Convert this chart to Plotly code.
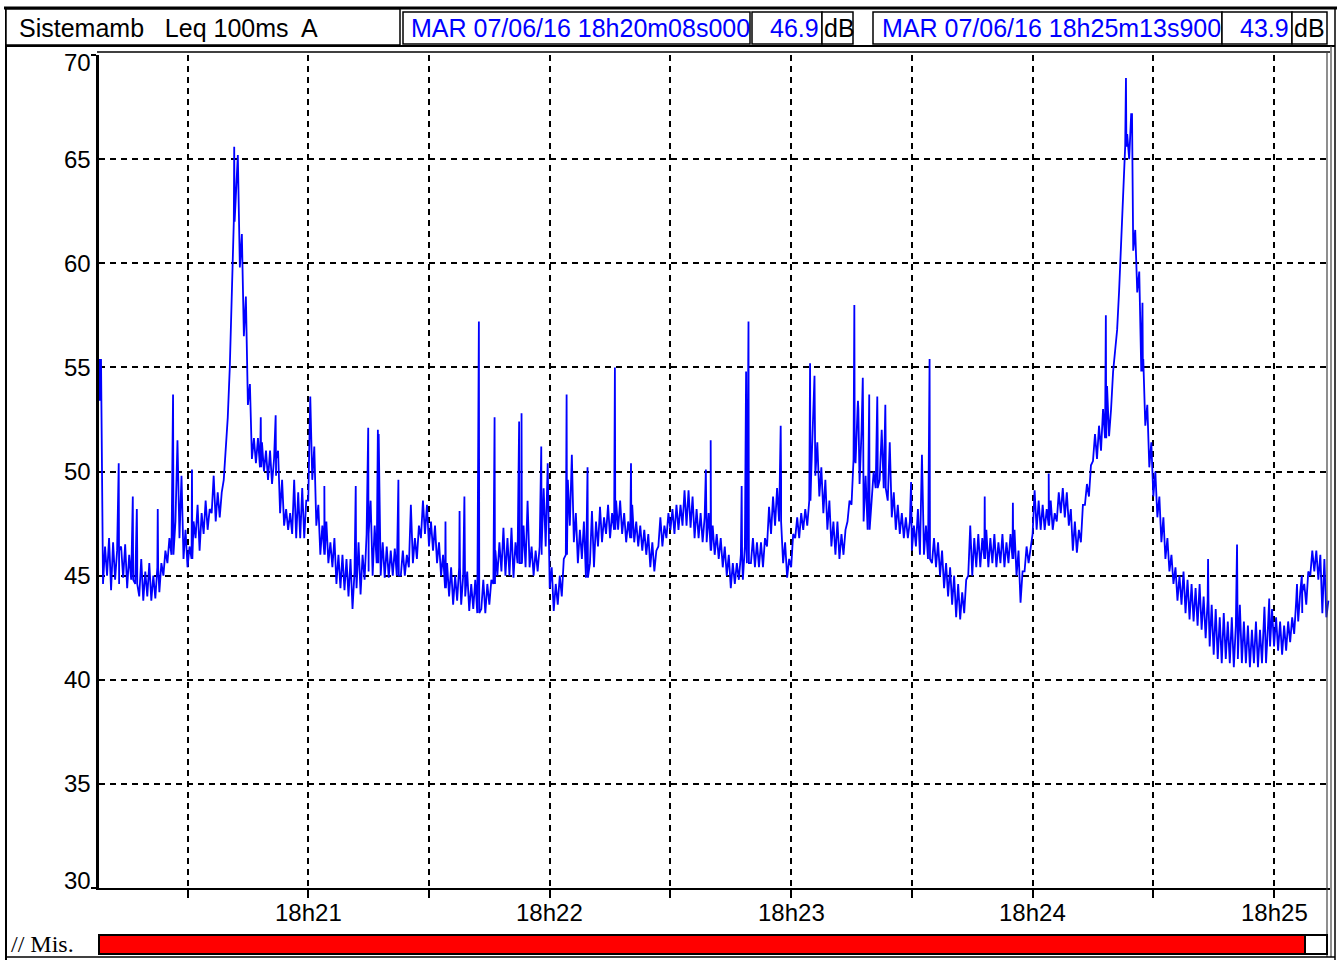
import plotly.graph_objects as go

# ---------------- data ----------------
# Leq 100ms A trace, read once per second from 18:20:08.0:
# bottom and top of the trace band within each second (dB)
start_s = 8.0  # seconds after 18:20:00
band_low_db = [
    53.4, 44.6, 45.0, 44.3, 44.8, 44.6, 44.9, 44.4, 44.8, 44.6,
    44.0, 43.8, 44.0, 43.8, 43.9, 44.2, 45.0, 45.6, 46.0, 47.6,
    46.8, 45.8, 45.4, 45.8, 46.8, 46.2, 47.0, 47.2, 48.0, 47.6,
    47.8, 49.6, 52.6, 59.0, 63.2, 59.8, 56.5, 53.2, 50.6, 50.4,
    50.2, 50.0, 49.6, 49.4, 49.8, 48.0, 47.4, 47.2, 47.0, 46.8,
    46.8, 46.8, 48.6, 49.6, 47.4, 46.0, 46.0, 45.6, 45.4, 44.6,
    44.4, 44.3, 44.0, 43.4, 44.4, 44.1, 44.8, 45.2, 45.0, 45.6,
    45.0, 44.9, 44.9, 45.0, 45.0, 45.0, 45.0, 45.4, 45.6, 45.8,
    46.8, 47.0, 46.4, 46.2, 45.6, 45.0, 44.4, 44.0, 43.6, 43.8,
    43.6, 44.0, 43.3, 43.4, 43.2, 43.4, 43.2, 43.6, 44.6, 45.0,
    45.2, 45.0, 45.0, 44.9, 45.6, 45.6, 45.4, 45.4, 45.0, 45.2,
    46.0, 46.4, 44.4, 43.3, 43.6, 44.0, 46.0, 47.4, 46.6, 45.6,
    45.8, 44.9, 45.6, 45.4, 46.4, 46.6, 47.0, 46.8, 47.2, 47.2,
    47.0, 46.6, 46.8, 46.6, 46.4, 46.2, 46.0, 45.4, 45.2, 46.4,
    46.4, 46.8, 47.2, 47.0, 47.2, 47.4, 47.4, 47.3, 46.8, 46.8,
    46.6, 46.6, 46.2, 46.0, 45.8, 45.4, 45.0, 44.4, 44.6, 44.8,
    44.8, 45.6, 45.6, 45.4, 45.4, 45.4, 46.4, 47.0, 47.4, 47.6,
    45.6, 44.9, 45.4, 46.8, 46.8, 47.2, 47.4, 50.0, 49.8, 48.8,
    48.0, 47.2, 46.4, 46.0, 45.8, 46.0, 47.6, 48.4, 50.4, 49.4,
    47.6, 47.2, 48.6, 49.2, 49.6, 49.2, 48.6, 47.8, 47.2, 47.0,
    46.8, 46.8, 46.2, 46.4, 46.0, 46.0, 45.8, 45.6, 45.4, 45.0,
    44.4, 44.0, 43.6, 43.0, 42.9, 43.2, 45.0, 45.0, 45.4, 45.4,
    45.8, 45.4, 45.6, 45.4, 45.6, 45.4, 45.6, 45.8, 45.0, 43.7,
    45.2, 45.6, 47.0, 47.2, 47.2, 47.2, 47.4, 47.2, 47.6, 48.0,
    47.8, 47.4, 46.2, 46.1, 46.6, 48.4, 48.8, 50.5, 50.6, 51.0,
    51.6, 51.7, 54.8, 56.8, 61.0, 65.6, 65.0, 60.6, 58.6, 54.8,
    52.2, 50.2, 48.8, 47.8, 46.6, 45.8, 45.2, 44.6, 43.8, 43.6,
    43.2, 42.9, 42.8, 42.6, 42.4, 42.0, 41.6, 41.2, 41.0, 40.8,
    41.0, 40.8, 40.6, 41.0, 40.8, 40.8, 40.6, 40.8, 40.6, 40.8,
    40.8, 41.6, 41.6, 41.4, 41.2, 41.4, 41.8, 42.2, 42.8, 43.2,
    43.6, 45.0, 45.2, 44.8, 43.2, 43.0,
]
band_high_db = [
    55.4, 46.4, 46.8, 46.6, 46.2, 46.4, 46.5, 46.0, 46.6, 46.2,
    45.8, 45.2, 45.6, 45.0, 45.4, 45.6, 46.2, 46.8, 47.4, 51.5,
    49.8, 47.2, 46.4, 47.6, 48.4, 48.0, 48.6, 48.2, 49.8, 49.0,
    49.0, 51.2, 55.0, 62.0, 65.2, 61.4, 58.4, 54.2, 51.6, 51.6,
    51.4, 51.0, 51.0, 50.6, 51.0, 49.6, 48.2, 48.0, 49.6, 49.0,
    49.2, 48.6, 53.6, 51.2, 48.4, 47.4, 47.6, 46.6, 46.8, 46.0,
    46.0, 45.8, 45.8, 45.2, 46.6, 46.0, 47.0, 48.6, 47.4, 51.8,
    46.6, 46.4, 46.2, 46.3, 46.0, 46.2, 46.0, 48.4, 46.8, 47.4,
    48.6, 48.4, 47.6, 47.4, 46.6, 46.0, 45.6, 45.4, 45.0, 45.4,
    45.0, 45.2, 44.6, 44.8, 44.6, 44.8, 44.6, 44.8, 46.2, 46.6,
    47.3, 46.8, 47.3, 46.6, 47.2, 47.4, 48.6, 46.4, 46.2, 46.4,
    49.2, 50.4, 45.4, 44.6, 45.0, 45.8, 49.6, 50.8, 48.0, 47.2,
    47.6, 46.4, 48.1, 47.6, 48.3, 47.8, 48.4, 48.0, 48.6, 48.6,
    48.0, 47.6, 48.4, 47.6, 47.4, 47.2, 47.0, 46.6, 46.2, 47.8,
    47.4, 48.0, 48.2, 48.4, 48.4, 49.1, 49.1, 48.8, 48.2, 48.0,
    47.8, 48.0, 47.4, 47.0, 46.8, 46.4, 46.0, 45.6, 45.6, 46.0,
    46.4, 47.0, 46.8, 46.6, 46.6, 46.8, 48.3, 48.8, 49.2, 49.6,
    46.6, 45.8, 47.0, 47.8, 48.0, 48.2, 48.6, 52.4, 51.4, 50.2,
    49.6, 48.6, 47.6, 47.6, 47.0, 47.2, 48.6, 50.6, 53.0, 52.0,
    49.8, 48.8, 50.0, 51.6, 52.0, 51.2, 51.4, 49.0, 48.4, 48.0,
    47.8, 47.6, 47.4, 48.2, 50.8, 47.4, 47.2, 46.8, 46.6, 46.2,
    45.6, 45.4, 45.0, 44.6, 44.2, 44.8, 47.4, 46.8, 47.0, 46.8,
    47.2, 46.8, 47.0, 46.6, 47.0, 46.6, 47.0, 47.2, 46.2, 45.2,
    46.4, 46.4, 49.1, 48.6, 48.4, 48.2, 48.6, 48.0, 49.0, 49.2,
    49.0, 48.2, 47.6, 47.2, 48.4, 49.4, 50.3, 51.8, 52.2, 53.0,
    54.1, 53.0, 55.8, 58.7, 62.6, 66.2, 67.2, 61.6, 59.6, 55.4,
    53.2, 51.4, 50.0, 48.8, 47.8, 46.8, 46.0, 45.4, 45.0, 45.2,
    44.8, 44.6, 44.4, 44.6, 44.0, 43.8, 43.6, 43.4, 43.0, 43.2,
    42.8, 43.0, 42.6, 43.6, 42.8, 42.6, 42.4, 42.8, 42.4, 43.0,
    42.6, 43.4, 43.0, 42.8, 42.6, 42.8, 43.0, 43.8, 44.2, 44.6,
    45.2, 46.2, 46.2, 46.0, 45.8, 43.8,
]

# short 100 ms peaks (seconds after 18:20:08.0, dB)
spike_t = [0.2, 4.9, 8.4, 9.4, 14.6, 18.4, 23.1, 33.6, 40.2, 43.9,
           56.0, 63.8, 66.9, 69.3, 74.4, 86.1, 89.6, 90.8, 94.4, 98.3,
           104.4, 105.0, 109.9, 116.2, 121.4, 128.2, 132.2, 150.8, 152.0, 159.7,
           160.8, 161.4, 169.4, 176.7, 177.8, 187.7, 188.6, 189.8, 191.4, 193.4,
           195.4, 201.8, 206.4, 220.1, 227.1, 236.0, 250.2, 255.2, 256.6, 259.3,
           275.6, 282.8, 289.6, 290.8, 297.7, 298.9]
spike_db = [55.4, 50.4, 48.8, 48.2, 48.2, 53.7, 50.1, 65.6, 52.6, 52.7,
            49.3, 49.3, 52.1, 52.0, 49.6, 47.6, 48.1, 48.8, 57.2, 52.6,
            52.4, 52.8, 51.2, 53.7, 50.2, 55.0, 50.4, 50.1, 51.5, 49.3,
            54.8, 57.2, 52.2, 55.2, 54.6, 58.0, 53.4, 54.5, 53.7, 53.6,
            53.2, 49.5, 55.4, 48.8, 48.5, 49.9, 57.5, 68.9, 66.9, 58.1,
            45.8, 46.5, 43.5, 43.9, 44.6, 45.0]
sample_len_s = 0.1

y_ticks = [30, 35, 40, 45, 50, 55, 60, 65, 70]
y_grid = [35, 40, 45, 50, 55, 60, 65]
x_tick_s = [30, 60, 90, 120, 150, 180, 210, 240, 270, 300]
x_tick_text = ["", "18h21", "", "18h22", "", "18h23", "", "18h24", "", "18h25"]
x_range = [8.0, 313.9]
y_range = [30, 70]

header_title = "Sistemamb   Leq 100ms  A"
cursor1_time = "MAR 07/06/16 18h20m08s000"
cursor1_val = "46.9"
cursor2_time = "MAR 07/06/16 18h25m13s900"
cursor2_val = "43.9"
unit = "dB"
mis_label = "// Mis."

# ---------------- build series ----------------
# within each second the trace swings from the band bottom to the band top
samples = []
for i, (lo, hi) in enumerate(zip(band_low_db, band_high_db)):
    samples.append((start_s + i, lo, 0))
    samples.append((start_s + i + 0.5, hi, 0))
for t, p in zip(spike_t, spike_db):
    i = int(t)
    held = band_low_db[i] if (t - i) < 0.5 else band_high_db[i]
    samples.append((start_s + t, p, 1))
    samples.append((start_s + t + sample_len_s, held, 1))
samples.sort(key=lambda s: (s[0], s[2]))
xs = [s[0] for s in samples]
ys = [s[1] for s in samples]

# ---------------- figure ----------------
W, H = 1344, 960
L, R, T, B = 99, 14, 55, 72
PW, PH = W - L - R, H - T - B


def px(x):
    return (x - L) / PW


def py(y):
    return (H - B - y) / PH


FONT = "Arial, Liberation Sans, sans-serif"
BLUE = "#0000FF"
FS = 24
HFS = 25

fig = go.Figure()
fig.add_trace(go.Scatter(x=xs, y=ys, mode="lines", line=dict(color=BLUE, width=1.8),
                         hoverinfo="skip", showlegend=False))

fig.update_layout(
    width=W, height=H,
    margin=dict(l=L, r=R, t=T, b=B),
    paper_bgcolor="white", plot_bgcolor="white",
    showlegend=False,
    font=dict(family=FONT, size=FS, color="black"),
    xaxis=dict(range=x_range, tickvals=x_tick_s, showticklabels=False,
               showgrid=True, gridcolor="black", gridwidth=1.5, griddash="6px,5px",
               ticks="outside", ticklen=8, tickwidth=2, tickcolor="black",
               showline=True, linecolor="black", linewidth=2, zeroline=False),
    yaxis=dict(range=y_range, tickvals=[30, 70], showticklabels=False, showgrid=False,
               ticks="outside", ticklen=5, tickwidth=2, tickcolor="black",
               showline=True, linecolor="black", linewidth=3, zeroline=False,
               minor=dict(tickvals=y_grid, showgrid=True, gridcolor="black",
                          gridwidth=1.5, griddash="6px,5px", ticks="")),
)

shapes = []
annotations = []


def box(x0, x1, y0, y1, fill="white", lw=1.5, color="black"):
    shapes.append(dict(type="rect", xref="paper", yref="paper",
                       x0=px(x0), x1=px(x1), y0=py(y1), y1=py(y0),
                       fillcolor=fill, line=dict(color=color, width=lw), layer="above"))


def line(x0, y0, x1, y1, lw=1.5, color="black"):
    shapes.append(dict(type="line", xref="paper", yref="paper",
                       x0=px(x0), x1=px(x1), y0=py(y0), y1=py(y1),
                       line=dict(color=color, width=lw), layer="above"))


def text(s, x, y, anchor="left", color="black", size=HFS, family=FONT):
    annotations.append(dict(text=s, xref="paper", yref="paper", x=px(x), y=py(y),
                            xanchor=anchor, yanchor="middle", showarrow=False,
                            font=dict(family=family, size=size, color=color)))


# tick labels (end labels sit just inside the axis, as in the original)
for v in y_ticks:
    shift = -7 if v == y_range[1] else (8 if v == y_range[0] else 0)
    annotations.append(dict(text=str(v), xref="paper", yref="y", x=px(93), y=v, yshift=shift,
                            xanchor="right", yanchor="middle", showarrow=False,
                            font=dict(family=FONT, size=FS, color="black")))
for v, s in zip(x_tick_s, x_tick_text):
    if s:
        annotations.append(dict(text=s, xref="x", yref="paper", x=v, y=py(912),
                                xanchor="center", yanchor="middle", showarrow=False,
                                font=dict(family=FONT, size=FS, color="black")))

# outer frame
line(4, 8, 1337, 8, lw=3)
line(6, 8, 6, 960, lw=2)
line(1335, 8, 1335, 960, lw=1.5)
line(6, 46, 1335, 46, lw=2)
# plot frame top and right double line
line(97, 52, 1330, 52, lw=1.5)
line(1327, 52, 1327, 957, lw=1.2, color="#444444")
line(1331, 46, 1331, 957, lw=1.2, color="#444444")

# header boxes
box(6, 400, 9, 45, lw=1.5)
text(header_title, 17, 28)
box(403, 750, 12, 44)
text(cursor1_time, 409, 28, color=BLUE)
box(752, 822, 12, 44)
text(cursor1_val, 821, 28, anchor="right", color=BLUE)
box(822, 853, 12, 44)
text(unit, 822, 28)
box(873, 1222, 12, 44)
text(cursor2_time, 880, 28, color=BLUE)
box(1222, 1292, 12, 44)
text(cursor2_val, 1291, 28, anchor="right", color=BLUE)
box(1292, 1327, 12, 44)
text(unit, 1292, 28)

# bottom measurement bar
box(99, 1327, 935, 954, fill="white", lw=2)
box(99, 1305, 935, 954, fill="#FF0000", lw=2)
line(6, 957, 1335, 957, lw=1.5)
text(mis_label, 9, 944, size=24, family="Liberation Serif, Times New Roman, serif")

fig.update_layout(shapes=shapes, annotations=annotations)
fig.write_html("out.html")
